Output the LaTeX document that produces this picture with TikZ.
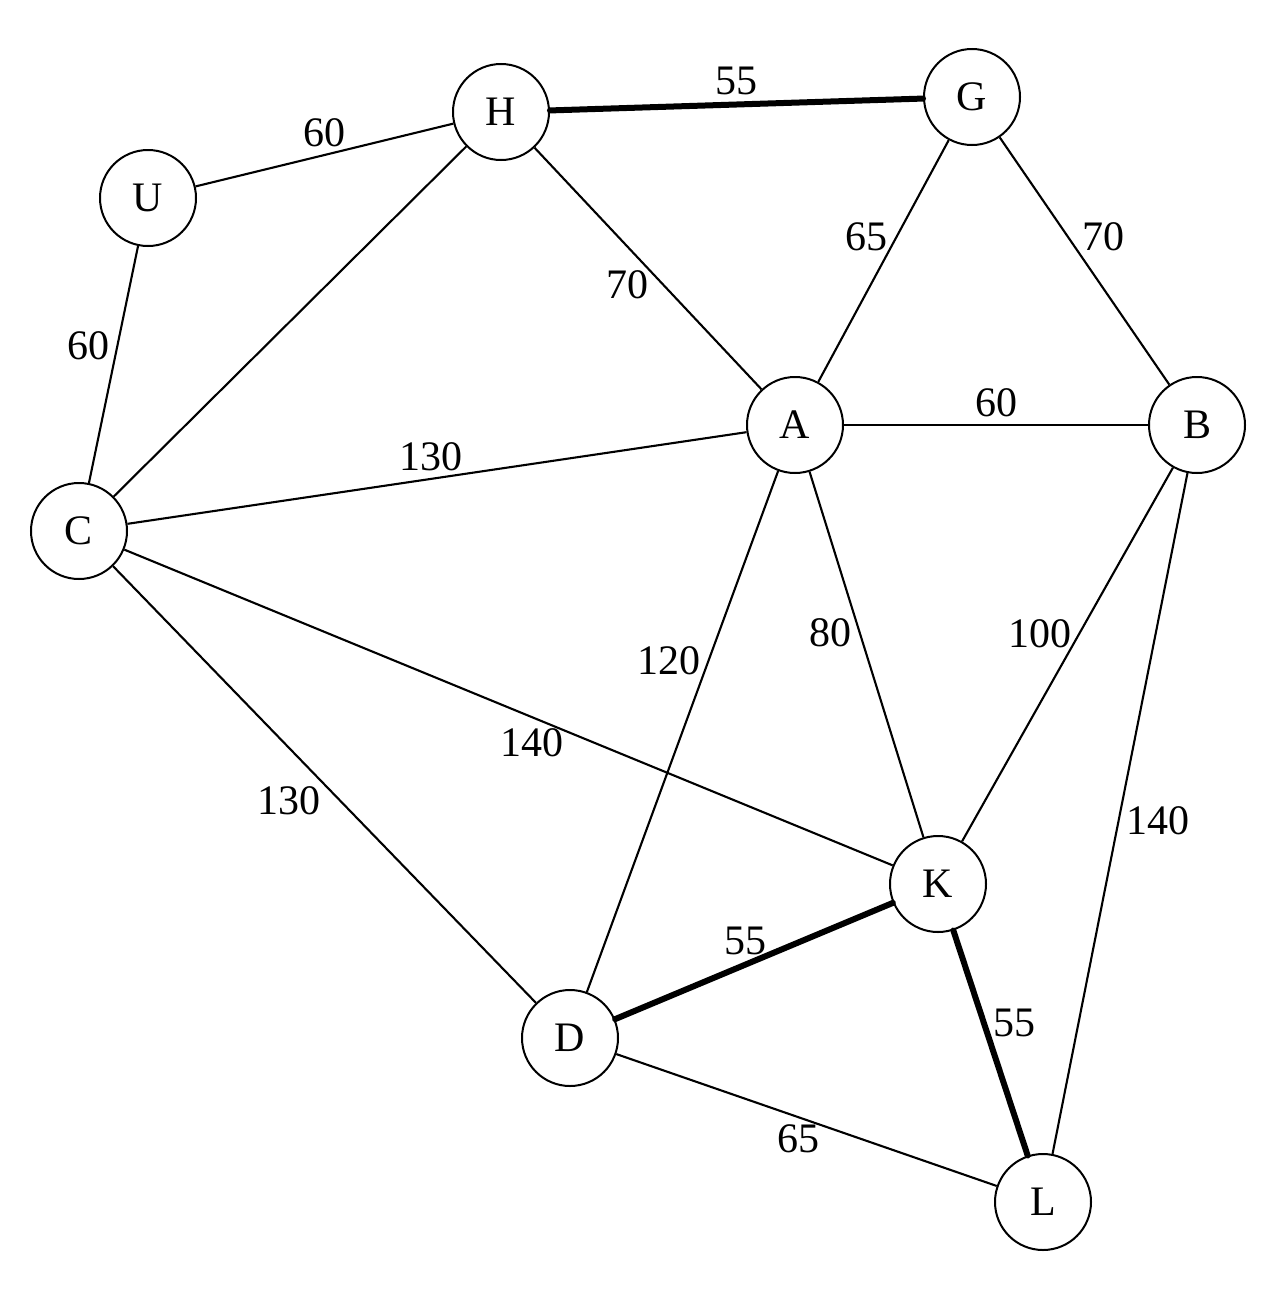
\documentclass[tikz,border=0pt]{standalone}
\usepackage{fontspec}
\setmainfont{Liberation Serif}
\usetikzlibrary{positioning}

\begin{document}
\begin{tikzpicture}[x=0.5pt, y=-0.5pt, font=\fontsize{21}{25}\selectfont,
    vertex/.style={draw, circle, fill=white, minimum size=48pt, inner sep=0pt, line width=1pt},
    edge/.style={line width=1.05pt},
    heavy/.style={line width=3pt, line cap=round}]
    \useasboundingbox (0,0) rectangle (1280,1306);
    \node[vertex] (h) at (501,112) {H};
    \node[vertex] (g) at (972,97) {G};
    \node[vertex] (u) at (148,198) {U};
    \node[vertex] (a) at (795,425) {A};
    \node[vertex] (b) at (1197,425) {B};
    \node[vertex] (c) at (79,531) {C};
    \node[vertex] (k) at (938,884) {K};
    \node[vertex] (d) at (570,1038) {D};
    \node[vertex] (l) at (1043,1202) {L};

    \draw[edge] (u) -- node[above]{60} (h);
    \draw[heavy] (h) -- node[above]{55} (g);
    \draw[edge] (u) -- node[pos=0.42, left]{60} (c);
    \draw[edge] (h) -- (c);
    \draw[edge] (h) -- node[pos=0.5, below left, xshift=4pt, yshift=3pt]{70} (a);
    \draw[edge] (g) -- node[pos=0.49, above left, xshift=5pt]{65} (a);
    \draw[edge] (g) -- node[pos=0.49, above right, xshift=-4pt]{70} (b);
    \draw[edge] (a) -- node[above]{60} (b);
    \draw[edge] (c) -- node[pos=0.49, above]{130} (a);
    \draw[edge] (c) -- node[pos=0.53, below=2pt]{140} (k);
    \draw[edge] (c) -- node[below left, xshift=2pt, yshift=3pt]{130} (d);
    \draw[edge] (a) -- node[pos=0.365, left]{120} (d);
    \draw[edge] (a) -- node[pos=0.44, left]{80} (k);
    \draw[edge] (b) -- node[pos=0.445, left]{100} (k);
    \draw[edge] (b) -- node[pos=0.51, right]{140} (l);
    \draw[heavy] (d) -- node[pos=0.47, above]{55} (k);
    \draw[heavy] (k) -- node[pos=0.41, right]{55} (l);
    \draw[edge] (d) -- node[pos=0.48, below]{65} (l);
\end{tikzpicture}
\end{document}
